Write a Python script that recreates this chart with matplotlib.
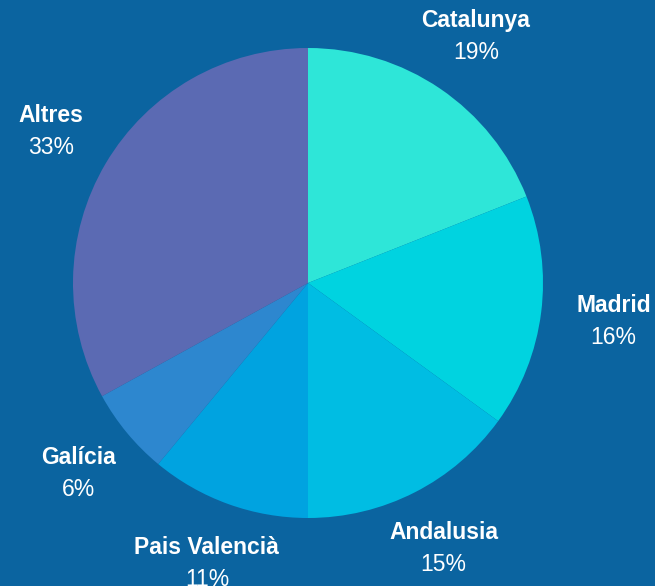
import numpy as np
import matplotlib
matplotlib.use('Agg')
from matplotlib import pyplot as plt

regions = ['Catalunya', 'Madrid', 'Andalusia', 'Pais Valencià', 'Galícia', 'Altres']
shares = [19, 16, 15, 11, 6, 33]
colors = ['#2EE6D8', '#00D3E0', '#00BDE3', '#00A3E0', '#2D87CF', '#5B6AB3']

bg = '#0B64A0'
W, H = 655, 586
cx, cy, r = 308, H - 283, 235

fig = plt.figure(figsize=(W / 100, H / 100), dpi=100, facecolor=bg)
ax = fig.add_axes([0, 0, 1, 1])
ax.set_facecolor(bg)

ax.pie(shares, colors=colors, startangle=90, counterclock=False,
       center=(cx, cy), radius=r, wedgeprops={'linewidth': 0})

# etiquetes fora del pastís
total = sum(shares)
acc = 0
for nom, v in zip(regions, shares):
    mid = 90 - (acc + v / 2) / total * 360
    acc += v
    d = r * 1.27
    if nom == 'Madrid':
        d = r * 1.31
    x = cx + d * np.cos(np.radians(mid))
    y = cy + d * np.sin(np.radians(mid))
    ax.text(x, y + 16, nom, ha='center', va='center', color='white',
            fontsize=16.5, fontweight='bold', family='Liberation Sans')
    ax.text(x, y - 16, f'{v}%', ha='center', va='center', color='white',
            fontsize=16.5, family='Liberation Sans')

ax.set_xlim(0, W)
ax.set_ylim(0, H)
ax.set_aspect('equal')
ax.axis('off')
fig.savefig('out.png', dpi=100, facecolor=bg)
